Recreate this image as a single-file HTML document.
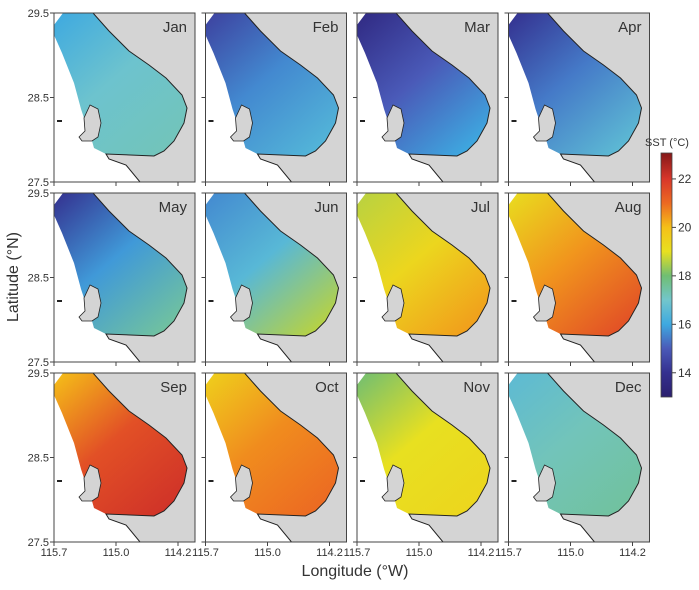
<!DOCTYPE html>
<html><head><meta charset="utf-8"><style>
body{margin:0;background:#fff;}
svg text{font-family:"Liberation Sans Narrow","Liberation Sans",sans-serif;fill:#333;}
</style></head><body>
<svg id="c" width="699" height="585" xmlns="http://www.w3.org/2000/svg">
<defs id="defs"></defs>
<text x="18" y="277" font-size="16" text-anchor="middle" transform="rotate(-90 18 277)">Latitude (°N)</text>
<text x="355" y="576" font-size="16" text-anchor="middle">Longitude (°W)</text>
</svg>
<script>
const months=["Jan","Feb","Mar","Apr","May","Jun","Jul","Aug","Sep","Oct","Nov","Dec"];
const sstNW=[16.0,14.4,13.6,14.0,14.0,15.6,18.6,19.1,20.0,19.5,18.0,16.6];
const sstMid=[16.9,15.6,15.0,15.4,15.8,16.5,19.3,20.5,21.5,20.6,19.0,17.2];
const sstSE=[17.2,16.4,16.0,16.6,17.5,18.6,20.4,21.5,22.1,21.0,19.3,17.5];
const cbTicks=[14,16,18,20,22];
const latTicks=["29.5","28.5","27.5"];
const lonTicks=["115.7","115.0","114.2"];
const NS="http://www.w3.org/2000/svg";
const svg=document.getElementById('c'),defs=document.getElementById('defs');
const cmapV=[13,14,15,16,17,18,19,20,21,22,23];
const cmapC=["#2b1f6e","#34308f","#4a5ab8","#3ea9e0","#72c6cc","#70be72","#e8e020","#f5c018","#ec6a22","#d8362a","#8a1a1a"];
function col(v){for(let i=0;i<cmapV.length-1;i++){if(v<=cmapV[i+1]){const t=Math.max(0,(v-cmapV[i])/(cmapV[i+1]-cmapV[i]));const a=h(cmapC[i]),b=h(cmapC[i+1]);return `rgb(${a.map((x,k)=>Math.round(x+(b[k]-x)*t)).join(',')})`;}}return cmapC[cmapC.length-1];}
function h(s){return [1,3,5].map(i=>parseInt(s.substr(i,2),16));}
function el(t,a,p){const e=document.createElementNS(NS,t);for(const k in a)e.setAttribute(k,a[k]);(p||svg).appendChild(e);return e;}
const PW=141,PH=169,colX=[54,205.5,357,508.5],rowY=[13,193,373];
const sea="9,0 39,0 55,18 75,38 95,52 112,65 128,82 133,95 130,110 120,128 110,138 100,143 52,141 40,135 38,128 44,124 47,110 44,96 36,92 30,105 27,96 20,70 8,40 0,22 0,12";
const land="39,0 141,0 141,169 86,169 72,152 55,146 52,141 100,143 110,138 120,128 130,110 133,95 128,82 112,65 95,52 75,38 55,18";
const island="36,92 44,96 47,110 44,124 38,128 28,128 25,124 31,118 30,105";
function yS(i){return i*(PH/2);} function xS(i){return i*62;}
months.forEach((m,i)=>{
 const r=Math.floor(i/4),c=i%4,x0=colX[c],y0=rowY[r];
 const g=el('g',{transform:`translate(${x0},${y0})`});
 
 
 const lg=el('linearGradient',{id:'g'+i,x1:'0',y1:'0',x2:'0.8',y2:'1'},defs);
 el('stop',{offset:'0',['stop-color']:col(sstNW[i])},lg);
 el('stop',{offset:'0.5',['stop-color']:col(sstMid[i])},lg);
 el('stop',{offset:'1',['stop-color']:col(sstSE[i])},lg);
 el('rect',{x:0,y:0,width:PW,height:PH,fill:'#fff'},g);
 const s=el('polygon',{points:sea,fill:`url(#g${i})`},g);
 
 
 el('polygon',{points:land,fill:'#d4d4d4',stroke:'#222','stroke-width':1},g);
 el('polygon',{points:island,fill:'#d4d4d4',stroke:'#222','stroke-width':0.8},g);
 el('rect',{x:3,y:107,width:5,height:2,fill:'#222'},g);
 el('rect',{x:0,y:0,width:PW,height:PH,fill:'none',stroke:'#444','stroke-width':1},g);
 const t=el('text',{x:133,y:19,'font-size':15,'text-anchor':'end'},g);t.textContent=m;
 
 
 latTicks.forEach((lt,k)=>{el('line',{x1:-4,x2:0,y1:yS(k),y2:yS(k),stroke:'#444'},g);
  if(c===0){const tt=el('text',{x:-5,y:yS(k)+4,'font-size':11,'text-anchor':'end'},g);tt.textContent=lt;
   
   }});
 lonTicks.forEach((lt,k)=>{el('line',{x1:xS(k),x2:xS(k),y1:PH,y2:PH+4,stroke:'#444'},g);
  if(r===2){const tt=el('text',{x:xS(k),y:PH+14,'font-size':11,'text-anchor':'middle'},g);tt.textContent=lt;
   
   }});
});
const cb0=13,cb1=23.07,cbTop=153,cbBot=397;
function cy(v){return cbBot-(v-cb0)/(cb1-cb0)*(cbBot-cbTop);}
const cg=el('linearGradient',{id:'cb',x1:'0',y1:'1',x2:'0',y2:'0'},defs);
cmapV.forEach(v=>{if(v<=cb1)el('stop',{offset:((v-cb0)/(cb1-cb0)).toFixed(3),['stop-color']:col(v)},cg);});
const cb=el('rect',{x:661,y:cbTop,width:11,height:cbBot-cbTop,fill:'url(#cb)',stroke:'#444','stroke-width':0.8});


const ct=el('text',{x:667,y:146,'font-size':11,'text-anchor':'middle'});ct.textContent='SST (°C)';


cbTicks.forEach(v=>{el('line',{x1:672,x2:676,y1:cy(v),y2:cy(v),stroke:'#444'});
 const t=el('text',{x:678,y:cy(v)+4,'font-size':12});t.textContent=v;
 
 });
</script>
</body></html>
